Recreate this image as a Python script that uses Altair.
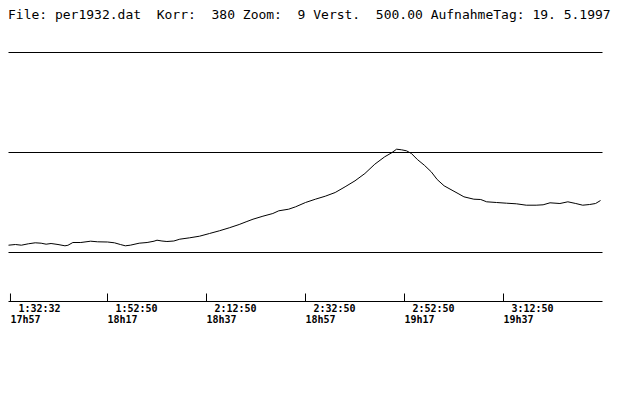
import altair as alt
import pandas as pd

# Header text (non-breaking spaces keep the fixed-width layout)
title_text = "File: per1932.dat  Korr:  380 Zoom:  9 Verst.  500.00 AufnahmeTag: 19. 5.1997".replace(" ", "\u00a0")

# Curve: minutes after 17h57 and signal level
minutes = [0.0, 1.4, 2.6, 4.0, 5.4, 6.6, 7.6, 8.6, 10.0, 11.4, 12.0, 13.0, 14.6, 16.6,
           18.0, 20.0, 21.4, 22.6, 23.6, 24.6, 26.4, 28.0, 29.4, 30.0, 31.0, 32.0,
           33.4, 34.6, 36.6, 38.6, 40.6, 42.6, 44.6, 46.6, 48.0, 49.4, 51.4, 53.4,
           54.6, 56.6, 58.0, 60.0, 62.0, 64.0, 66.0, 68.0, 70.0, 72.0, 74.0, 76.0,
           77.4, 78.4, 79.4, 80.4, 81.4, 82.6, 84.0, 85.4, 86.6, 88.0, 89.6, 91.0,
           92.0, 94.0, 95.4, 96.6, 98.6, 100.6, 102.6, 104.6, 106.6, 108.0, 109.4,
           111.4, 113.0, 114.6, 116.0, 117.4, 118.6, 119.6]
level = [7.3, 8.0, 7.3, 8.7, 9.7, 9.3, 8.3, 9.0, 8.0, 6.7, 7.2, 10.0, 10.0, 11.3,
         10.7, 10.5, 9.7, 8.0, 6.7, 7.3, 9.3, 10.0, 11.3, 12.3, 11.5, 11.0,
         11.5, 13.3, 14.7, 16.3, 19.0, 21.7, 24.7, 28.0, 30.7, 33.3, 36.3, 39.0,
         41.7, 43.3, 45.7, 50.0, 53.3, 56.3, 60.0, 65.7, 71.7, 79.0, 88.3, 95.7,
         99.7, 103.3, 102.7, 101.7, 99.0, 93.0, 87.3, 80.7, 73.0, 66.7, 62.3, 58.5,
         55.7, 53.3, 53.0, 50.7, 50.0, 49.3, 48.7, 47.3, 47.3, 47.7, 49.7, 49.0,
         50.7, 49.0, 47.3, 48.0, 49.0, 52.0]

# Reference levels drawn as horizontal lines
ref_levels = [0, 100, 200]

# Time axis
tick_minutes = [0.4, 20, 40, 60, 80, 100]
clock_labels = ["1:32:32", "1:52:50", "2:12:50", "2:32:50", "2:52:50", "3:12:50"]
time_labels = ["17h57", "18h17", "18h37", "18h57", "19h17", "19h37"]

xs = alt.Scale(domain=[0, 120], range=[0.5, 594.5])
ys = alt.Scale(domain=[0, 200], range=[244.5, 44.5])

curve_df = pd.DataFrame({"m": minutes, "v": level})
lines_df = pd.DataFrame({"v": ref_levels, "m0": [0] * 3, "m1": [120] * 3})
axis_df = pd.DataFrame({"v": [-49], "m0": [0], "m1": [120]})
ticks_df = pd.DataFrame({"m": tick_minutes, "v0": [-41] * 6, "v1": [-49] * 6,
                         "clock": clock_labels, "time": time_labels,
                         "vc": [-59.5] * 6, "vt": [-70] * 6})
title_df = pd.DataFrame({"t": [title_text]})

hlines = alt.Chart(lines_df).mark_rule(color="black", strokeWidth=1).encode(
    x=alt.X("m0:Q", scale=xs, axis=None), x2="m1:Q",
    y=alt.Y("v:Q", scale=ys, axis=None))

curve = alt.Chart(curve_df).mark_line(color="black", strokeWidth=1).encode(
    x=alt.X("m:Q", scale=xs, axis=None),
    y=alt.Y("v:Q", scale=ys, axis=None))

axis_line = alt.Chart(axis_df).mark_rule(color="black", strokeWidth=1).encode(
    x=alt.X("m0:Q", scale=xs, axis=None), x2="m1:Q",
    y=alt.Y("v:Q", scale=ys, axis=None))

ticks = alt.Chart(ticks_df).mark_rule(color="black", strokeWidth=1).encode(
    x=alt.X("m:Q", scale=xs, axis=None),
    y=alt.Y("v0:Q", scale=ys, axis=None), y2="v1:Q")

clock_text = alt.Chart(ticks_df).mark_text(
    align="left", baseline="alphabetic", dx=8, font="DejaVu Sans Mono",
    fontSize=10, fontWeight="bold", color="black").encode(
    x=alt.X("m:Q", scale=xs, axis=None),
    y=alt.Y("vc:Q", scale=ys, axis=None), text="clock:N")

time_text = alt.Chart(ticks_df).mark_text(
    align="left", baseline="alphabetic", font="DejaVu Sans Mono",
    fontSize=10, fontWeight="bold", color="black").encode(
    x=alt.X("m:Q", scale=xs, axis=None),
    y=alt.Y("vt:Q", scale=ys, axis=None), text="time:N")

header = alt.Chart(title_df).mark_text(
    align="left", baseline="top", font="DejaVu Sans Mono", fontSize=13,
    color="black").encode(x=alt.value(0), y=alt.value(1), text="t:N")

chart = alt.layer(hlines, curve, axis_line, ticks, clock_text, time_text, header).properties(
    width=624, height=384, padding=0,
    autosize=alt.AutoSizeParams(type="none"),
    background="white"
).configure_view(strokeWidth=0)

chart.save("out.html", embed_options={"renderer": "svg", "actions": False})
